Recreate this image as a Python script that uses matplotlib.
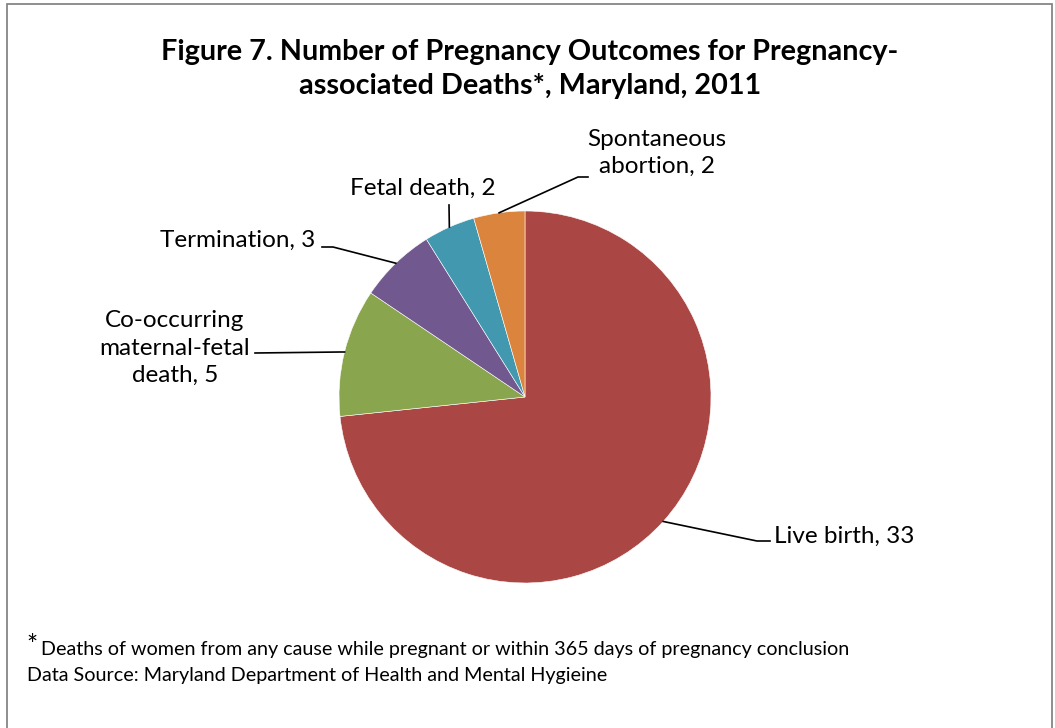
import matplotlib
matplotlib.use('Agg')
import matplotlib.pyplot as plt
import numpy as np
from matplotlib.patches import Rectangle

# data (clockwise from 12 o'clock)
outcomes = ['Live birth', 'Co-occurring\nmaternal-fetal\ndeath', 'Termination',
            'Fetal death', 'Spontaneous\nabortion']
counts = [33, 5, 3, 2, 2]
colors = ['#AA4643', '#89A54E', '#71588F', '#4198AF', '#DB843D']

plt.rcParams['font.family'] = ['Lato', 'DejaVu Sans']

W, H = 1055, 728
fig = plt.figure(figsize=(W / 100, H / 100), dpi=100)

# chart border
fig.patches.append(Rectangle((7 / W, -0.05), (1052 - 7) / W, 1.05 - 4 / H,
                             transform=fig.transFigure, fill=False,
                             edgecolor='#868686', linewidth=1.3))

cx, cy, r = 525, 397, 186
ax = fig.add_axes([(cx - r) / W, (H - cy - r) / H, 2 * r / W, 2 * r / H])
wedges, _ = ax.pie(counts, colors=colors, startangle=90, counterclock=False,
                   radius=1, wedgeprops=dict(edgecolor='white', linewidth=0.4))
ax.set_xlim(-1, 1)
ax.set_ylim(-1, 1)
ax.set_aspect('equal')
ax.axis('off')


def px(x, y):
    # pixel -> pie data coords
    return ((x - cx) / r, (cy - y) / r)


# label anchor points (pixels): elbow, end of line, text position, alignment
label_layout = [
    ((757, 541), (770, 541), (774, 536), 'left'),
    ((340, 352), (255, 353), (175, 348), 'center'),
    ((333, 247), (322, 247), (315, 240), 'right'),
    ((449, 205), (449, 205), (423, 188), 'center'),
    ((578, 177), (588, 177), (657, 153), 'center'),
]

fracs = np.cumsum([0] + counts) / sum(counts)
for i, (name, n) in enumerate(zip(outcomes, counts)):
    mid = (fracs[i] + fracs[i + 1]) / 2 * 2 * np.pi
    ex, ey = np.sin(mid), np.cos(mid)
    elbow, end, tpos, ha = label_layout[i]
    bx, by = px(*elbow)
    dx, dy = px(*end)
    ax.plot([ex, bx, dx], [ey, by, dy], color='black', linewidth=1.2,
            clip_on=False)
    tx, ty = px(*tpos)
    ax.text(tx, ty, f'{name}, {n}', ha=ha, va='center', fontsize=17.5,
            linespacing=1.36, clip_on=False)

fig.text(530 / W, 1 - 69 / H,
         'Figure 7. Number of Pregnancy Outcomes for Pregnancy-\n'
         'associated Deaths*, Maryland, 2011',
         ha='center', va='center', fontsize=20.7, fontweight='bold',
         linespacing=1.42)

fig.text(26 / W, 1 - 646 / H, '*', fontsize=19, va='center')
fig.text(41 / W, 1 - 649 / H,
         'Deaths of women from any cause while pregnant or within 365 days '
         'of pregnancy conclusion', fontsize=14.2, va='center')
fig.text(27 / W, 1 - 676 / H,
         'Data Source: Maryland Department of Health and Mental Hygieine',
         fontsize=14.2, va='center')

plt.savefig('out.png', dpi=100)
